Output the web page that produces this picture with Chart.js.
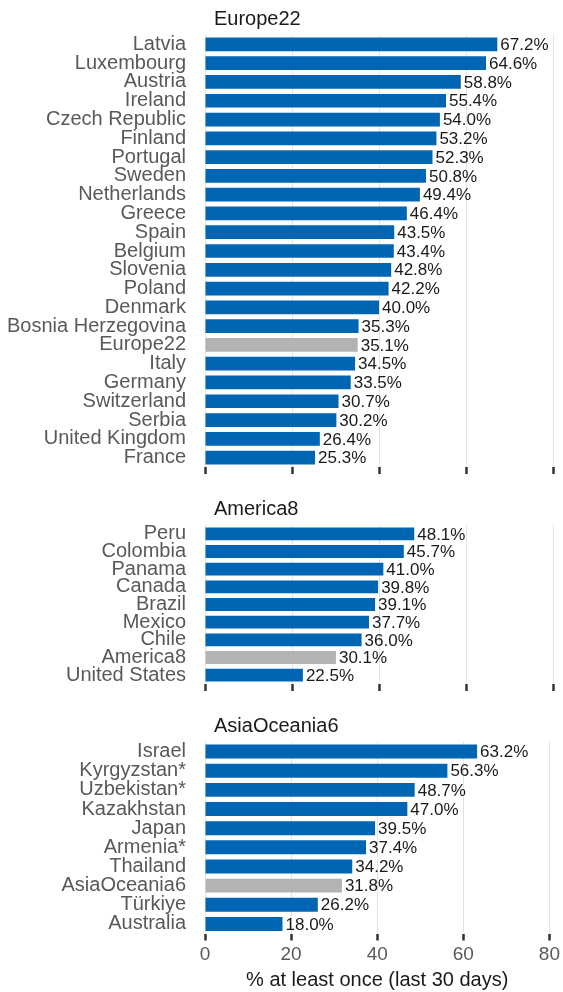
<!DOCTYPE html>
<html>
<head>
<meta charset="utf-8">
<script src="https://cdn.jsdelivr.net/npm/chart.js@4"></script>
<style>
  body { margin: 0; background: #fff; }
  .panel { position: absolute; left: 0; width: 563px; }
</style>
</head>
<body>
<div class="panel" style="top:0;height:490px"><canvas id="europeChart"></canvas></div>
<div class="panel" style="top:490px;height:217px"><canvas id="americaChart"></canvas></div>
<div class="panel" style="top:707px;height:285px"><canvas id="asiaChart"></canvas></div>
<script>
const europeLabels = ['Latvia', 'Luxembourg', 'Austria', 'Ireland', 'Czech Republic', 'Finland', 'Portugal',
  'Sweden', 'Netherlands', 'Greece', 'Spain', 'Belgium', 'Slovenia', 'Poland', 'Denmark',
  'Bosnia Herzegovina', 'Europe22', 'Italy', 'Germany', 'Switzerland', 'Serbia', 'United Kingdom', 'France'];
const europeValues = [67.2, 64.6, 58.8, 55.4, 54.0, 53.2, 52.3, 50.8, 49.4, 46.4, 43.5, 43.4, 42.8, 42.2, 40.0,
  35.3, 35.1, 34.5, 33.5, 30.7, 30.2, 26.4, 25.3];

const americaLabels = ['Peru', 'Colombia', 'Panama', 'Canada', 'Brazil', 'Mexico', 'Chile', 'America8', 'United States'];
const americaValues = [48.1, 45.7, 41.0, 39.8, 39.1, 37.7, 36.0, 30.1, 22.5];

const asiaLabels = ['Israel', 'Kyrgyzstan*', 'Uzbekistan*', 'Kazakhstan', 'Japan', 'Armenia*', 'Thailand',
  'AsiaOceania6', 'Türkiye', 'Australia'];
const asiaValues = [63.2, 56.3, 48.7, 47.0, 39.5, 37.4, 34.2, 31.8, 26.2, 18.0];

const xMin = 0;
const xMax = 80;
const xStep = 20;
const axisTitle = '% at least once (last 30 days)';

const FONT = '"Liberation Sans", Arial, sans-serif';
const BLUE = '#0066b3';
const GREY = '#b3b3b3';

const valueLabels = {
  id: 'valueLabels',
  afterDatasetsDraw(chart) {
    const ctx = chart.ctx;
    const values = chart.data.datasets[0].data;
    ctx.save();
    ctx.font = '17px ' + FONT;
    ctx.fillStyle = '#1a1a1a';
    ctx.textAlign = 'left';
    ctx.textBaseline = 'middle';
    chart.getDatasetMeta(0).data.forEach((bar, i) => {
      ctx.fillText(values[i].toFixed(1) + '%', bar.x + 3, bar.y + 1);
    });
    ctx.restore();
  }
};

const panelTitle = {
  id: 'panelTitle',
  afterDraw(chart, args, opts) {
    const ctx = chart.ctx;
    ctx.save();
    ctx.font = '20px ' + FONT;
    ctx.fillStyle = '#1a1a1a';
    ctx.textAlign = 'left';
    ctx.textBaseline = 'middle';
    ctx.fillText(opts.text, chart.chartArea.left + 9, chart.chartArea.top - 16);
    ctx.restore();
  }
};

function makePanel(id, title, labels, values, showAxis, axisHeight) {
  const colors = labels.map(l => (l === title ? GREY : BLUE));
  return new Chart(document.getElementById(id), {
    type: 'bar',
    data: {
      labels: labels,
      datasets: [{
        data: values,
        backgroundColor: colors,
        categoryPercentage: 1,
        barPercentage: 0.73,
      }],
    },
    options: {
      indexAxis: 'y',
      responsive: true,
      maintainAspectRatio: false,
      animation: false,
      layout: { padding: { top: 35, right: 10, left: 0, bottom: 0 } },
      plugins: {
        legend: { display: false },
        tooltip: { enabled: false },
        panelTitle: { text: title },
      },
      scales: {
        y: {
          grid: { display: false },
          border: { display: false },
          ticks: { autoSkip: false, padding: 11, color: '#595959', font: { family: FONT, size: 20 } },
          afterFit: s => { s.width = 205; },
        },
        x: {
          min: xMin,
          max: xMax,
          border: { display: false },
          grid: { color: '#e3e3e3', tickColor: '#333', tickLength: 7, tickWidth: 2.5 },
          ticks: { stepSize: xStep, display: showAxis, padding: 3, color: '#595959', font: { family: FONT, size: 19 } },
          title: { display: showAxis, text: axisTitle, color: '#1a1a1a', padding: 0, font: { family: FONT, size: 20 } },
          afterFit: s => { s.height = axisHeight; },
        },
      },
    },
    plugins: [valueLabels, panelTitle],
  });
}

makePanel('europeChart', 'Europe22', europeLabels, europeValues, false, 18.5);
makePanel('americaChart', 'America8', americaLabels, americaValues, false, 18.5);
makePanel('asiaChart', 'AsiaOceania6', asiaLabels, asiaValues, true, 58.5);
</script>
</body>
</html>
